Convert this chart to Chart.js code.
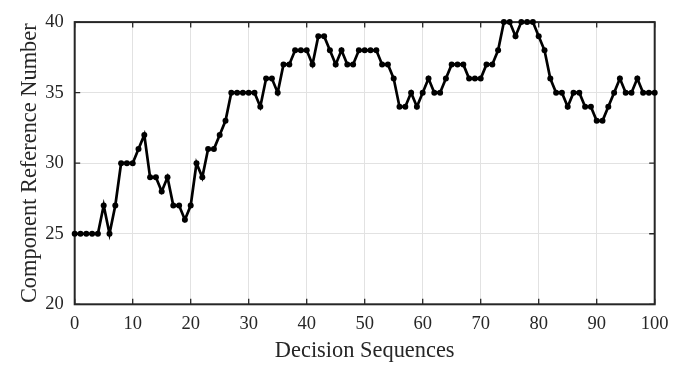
<!DOCTYPE html>
<html>
<head>
<meta charset="utf-8">
<script src="https://cdn.jsdelivr.net/npm/chart.js@4/dist/chart.umd.min.js"></script>
<style>
  html, body { margin: 0; padding: 0; background: #fff; }
  #wrap { width: 688px; height: 367px; }
</style>
</head>
<body>
<div id="wrap"><canvas id="seqChart" width="688" height="367"></canvas></div>
<script>
// Component reference number picked at each decision step (0..100)
const componentRefs = [
    25, 25, 25, 25, 25, 27, 25, 27, 30, 30,
    30, 31, 32, 29, 29, 28, 29, 27, 27, 26,
    27, 30, 29, 31, 31, 32, 33, 35, 35, 35,
    35, 35, 34, 36, 36, 35, 37, 37, 38, 38,
    38, 37, 39, 39, 38, 37, 38, 37, 37, 38,
    38, 38, 38, 37, 37, 36, 34, 34, 35, 34,
    35, 36, 35, 35, 36, 37, 37, 37, 36, 36,
    36, 37, 37, 38, 40, 40, 39, 40, 40, 40,
    39, 38, 36, 35, 35, 34, 35, 35, 34, 34,
    33, 33, 34, 35, 36, 35, 35, 36, 35, 35,
    35
];
const xTickValues = [0, 10, 20, 30, 40, 50, 60, 70, 80, 90, 100];
const yTickValues = [20, 25, 30, 35, 40];

const xTitle = 'Decision Sequences';
const yTitle = 'Component Reference Number';

const textColor = '#262626';
const fontFamily = '"Liberation Serif", "Times New Roman", serif';

// Box round the plot with short inward tick marks on all four sides
const boxPlugin = {
    id: 'matlabBox',
    beforeDatasetsDraw(chart) {
        const { ctx, chartArea: a, scales } = chart;
        const tickLen = 5.5;
        ctx.save();
        ctx.strokeStyle = textColor;
        ctx.lineWidth = 1.3;
        ctx.beginPath();
        xTickValues.forEach(v => {
            const px = scales.x.getPixelForValue(v);
            ctx.moveTo(px, a.bottom);
            ctx.lineTo(px, a.bottom - tickLen);
            ctx.moveTo(px, a.top);
            ctx.lineTo(px, a.top + tickLen);
        });
        yTickValues.forEach(v => {
            const py = scales.y.getPixelForValue(v);
            ctx.moveTo(a.left, py);
            ctx.lineTo(a.left + tickLen, py);
            ctx.moveTo(a.right, py);
            ctx.lineTo(a.right - tickLen, py);
        });
        ctx.stroke();
        ctx.lineWidth = 2;
        ctx.strokeRect(a.left, a.top, a.right - a.left, a.bottom - a.top);
        ctx.restore();
    }
};

const ctx = document.getElementById('seqChart').getContext('2d');
new Chart(ctx, {
    type: 'line',
    data: {
        datasets: [{
            label: 'Component',
            data: componentRefs.map((v, i) => ({ x: i, y: v })),
            borderColor: '#000',
            backgroundColor: '#000',
            borderWidth: 2.7,
            pointRadius: 3,
            pointBorderWidth: 0,
            pointBackgroundColor: '#000',
            tension: 0,
            clip: false
        }]
    },
    options: {
        responsive: false,
        animation: false,
        layout: {
            padding: { top: 13.3, right: 33.3, left: 0, bottom: 0 }
        },
        plugins: {
            legend: { display: false },
            tooltip: { enabled: false }
        },
        scales: {
            x: {
                type: 'linear',
                min: 0,
                max: 100,
                afterBuildTicks: (scale) => {
                    scale.ticks = xTickValues.map(v => ({ value: v }));
                },
                afterFit: (scale) => { scale.height = 62.7; },
                grid: {
                    color: '#e2e2e2',
                    lineWidth: 1,
                    drawTicks: false
                },
                border: { display: false },
                ticks: {
                    padding: 9,
                    color: textColor,
                    maxRotation: 0,
                    font: { family: fontFamily, size: 18.5 }
                },
                title: {
                    display: true,
                    text: xTitle,
                    color: textColor,
                    padding: { top: 0, bottom: 2 },
                    font: { family: fontFamily, size: 22.4 }
                }
            },
            y: {
                min: 20,
                max: 40,
                afterBuildTicks: (scale) => {
                    scale.ticks = yTickValues.map(v => ({ value: v }));
                },
                afterFit: (scale) => { scale.width = 74.7; },
                grid: {
                    color: '#e2e2e2',
                    lineWidth: 1,
                    drawTicks: false
                },
                border: { display: false },
                ticks: {
                    padding: 11,
                    color: textColor,
                    font: { family: fontFamily, size: 18.5 }
                },
                title: {
                    display: true,
                    text: yTitle,
                    color: textColor,
                    padding: { top: 17, bottom: 0 },
                    font: { family: fontFamily, size: 22.4 }
                }
            }
        }
    },
    plugins: [boxPlugin]
});
</script>
</body>
</html>
